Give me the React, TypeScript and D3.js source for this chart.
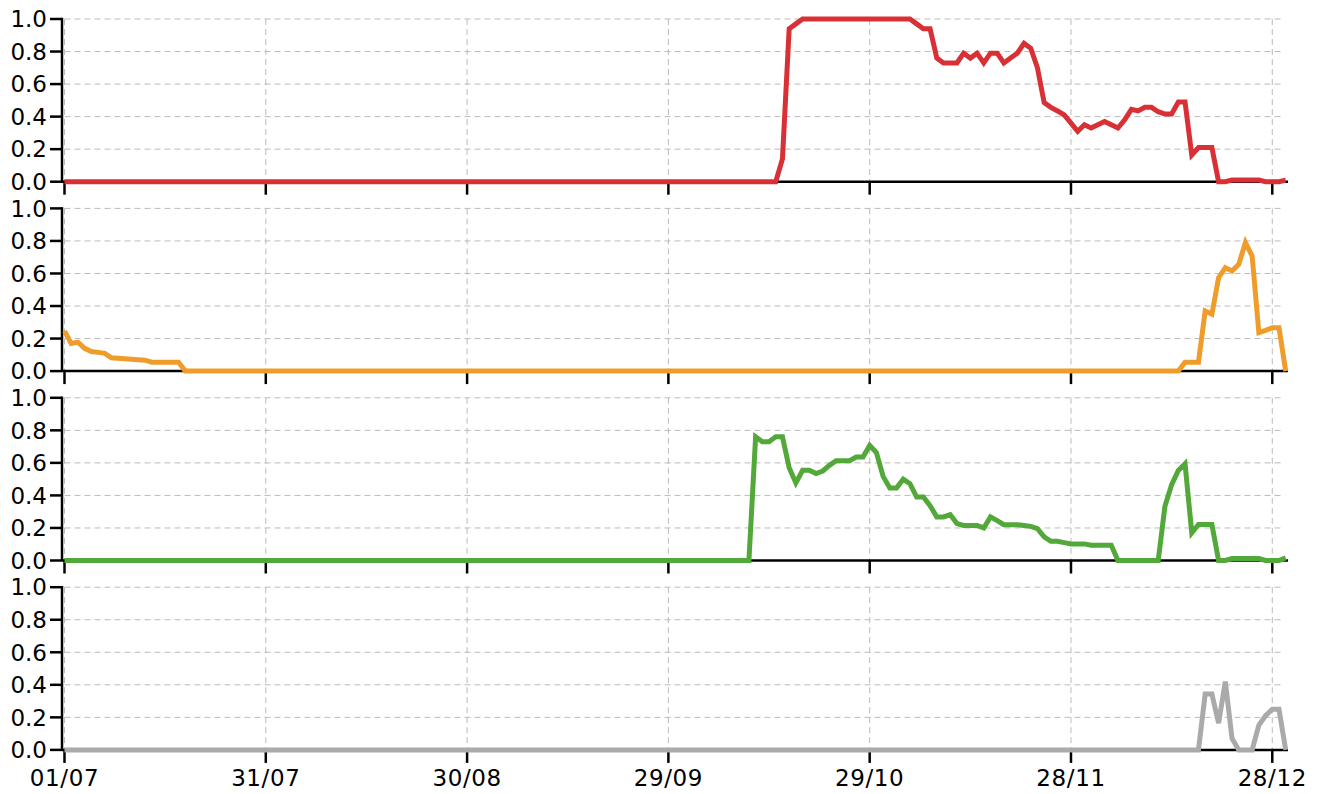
import React from "react";
import * as d3 from "d3";

const YEAR = 2021;
const startLabel = "01/07";
const endLabel = "30/12";
const xTickLabels = ["01/07", "31/07", "30/08", "29/09", "29/10", "28/11", "28/12"];
const yTicks = [0, 0.2, 0.4, 0.6, 0.8, 1.0];

// Day offsets from 01/07 and values
const redDays = [0, 106, 107, 108, 109, 110, 126, 127, 128, 129, 130, 131, 132, 133, 134, 135, 136, 137, 138, 139, 140, 141, 142, 143, 144, 145, 146, 147, 148, 149, 150, 151, 152, 153, 154, 155, 156, 157, 158, 159, 160, 161, 162, 163, 164, 165, 166, 167, 168, 169, 170, 171, 172, 173, 174, 178, 179, 181, 182];
const redValues = [0, 0, 0.14, 0.94, 0.97, 1, 1, 0.97, 0.94, 0.94, 0.76, 0.73, 0.73, 0.73, 0.79, 0.76, 0.79, 0.73, 0.79, 0.79, 0.73, 0.76, 0.79, 0.85, 0.82, 0.7, 0.486, 0.457, 0.435, 0.41, 0.36, 0.31, 0.35, 0.33, 0.35, 0.37, 0.35, 0.33, 0.38, 0.445, 0.435, 0.457, 0.457, 0.43, 0.416, 0.416, 0.49, 0.49, 0.164, 0.21, 0.21, 0.21, 0, 0, 0.01, 0.01, 0, 0, 0.01];

const orangeDays = [0, 1, 2, 3, 4, 5, 6, 7, 12, 13, 17, 18, 166, 167, 169, 170, 171, 172, 173, 174, 175, 176, 177, 178, 179, 180, 181, 182];
const orangeValues = [0.246, 0.17, 0.178, 0.14, 0.12, 0.115, 0.109, 0.082, 0.067, 0.055, 0.055, 0, 0, 0.055, 0.055, 0.37, 0.35, 0.574, 0.636, 0.615, 0.656, 0.79, 0.707, 0.236, 0.25, 0.267, 0.267, 0];

const greenDays = [0, 102, 103, 104, 105, 106, 107, 108, 109, 110, 111, 112, 113, 114, 115, 116, 117, 118, 119, 120, 121, 122, 123, 124, 125, 126, 127, 128, 129, 130, 131, 132, 133, 134, 135, 136, 137, 138, 139, 140, 141, 142, 143, 144, 145, 146, 147, 148, 149, 150, 151, 152, 153, 156, 157, 163, 164, 165, 166, 167, 168, 169, 171, 172, 173, 174, 178, 179, 181, 182];
const greenValues = [0, 0, 0.76, 0.73, 0.73, 0.76, 0.76, 0.57, 0.477, 0.554, 0.554, 0.534, 0.55, 0.585, 0.613, 0.613, 0.613, 0.636, 0.636, 0.707, 0.664, 0.517, 0.446, 0.446, 0.5, 0.472, 0.39, 0.39, 0.337, 0.268, 0.268, 0.282, 0.227, 0.215, 0.215, 0.215, 0.2, 0.268, 0.245, 0.22, 0.22, 0.22, 0.215, 0.21, 0.196, 0.145, 0.118, 0.118, 0.11, 0.102, 0.102, 0.102, 0.094, 0.094, 0, 0, 0.333, 0.466, 0.554, 0.595, 0.17, 0.221, 0.221, 0, 0, 0.012, 0.012, 0, 0, 0.016];

const greyDays = [0, 169, 170, 171, 172, 173, 174, 175, 177, 178, 179, 180, 181, 182];
const greyValues = [0, 0, 0.344, 0.344, 0.164, 0.42, 0.07, 0, 0, 0.153, 0.21, 0.25, 0.25, 0];

const seriesDays = [redDays, orangeDays, greenDays, greyDays];
const seriesValues = [redValues, orangeValues, greenValues, greyValues];
const seriesColors = ["#d93036", "#ef9c2a", "#52a838", "#aaaaaa"];

const parseDM = (s: string) => {
  const [d, m] = s.split("/").map(Number);
  return new Date(YEAR, m - 1, d);
};
const startDate = parseDM(startLabel);
const endDate = parseDM(endLabel);
const dayToDate = (n: number) => d3.timeDay.offset(startDate, n);

const W = 1322;
const H = 794;
const X0 = 64.5;
const X1 = 1285.7;
const AXIS_X = 62;
const AXIS_END = 1288;
const PANEL_TOP = 19;
const PANEL_STEP = 189.4;
const PANEL_H = 162.7;
const FONT = "'DejaVu Sans', Verdana, sans-serif";
const FS = 23;

export default function App() {
  const x = d3.scaleTime().domain([startDate, endDate]).range([X0, X1]);
  const tickDates = xTickLabels.map(parseDM);

  return (
    <svg
      width={W}
      height={H}
      style={{ position: "absolute", left: 0, top: 0, background: "#fff" }}
      fontFamily={FONT}
    >
      {seriesDays.map((days, i) => {
        const top = PANEL_TOP + i * PANEL_STEP;
        const y = d3.scaleLinear().domain([0, 1]).range([top + PANEL_H, top]);
        const pts = days.map((d, k) => [dayToDate(d), seriesValues[i][k]] as [Date, number]);
        const line = d3
          .line<[Date, number]>()
          .x((p) => x(p[0]))
          .y((p) => y(p[1]));
        const y0 = y(0);
        const isLast = i === seriesDays.length - 1;
        return (
          <g key={i}>
            {yTicks.map((t) => (
              <line
                key={"h" + t}
                x1={X0}
                x2={X1 - 2}
                y1={y(t)}
                y2={y(t)}
                stroke="#bbbbbb"
                strokeWidth={1}
                strokeDasharray="6,4"
              />
            ))}
            {tickDates.map((d, k) => (
              <line
                key={"v" + k}
                x1={x(d)}
                x2={x(d)}
                y1={y(1)}
                y2={y0}
                stroke="#bbbbbb"
                strokeWidth={1}
                strokeDasharray="6,4"
              />
            ))}
            <line x1={AXIS_X} x2={AXIS_END} y1={y0} y2={y0} stroke="#000" strokeWidth={2.5} />
            {tickDates.map((d, k) => (
              <line
                key={"xt" + k}
                x1={x(d)}
                x2={x(d)}
                y1={y0}
                y2={y0 + 13}
                stroke="#000"
                strokeWidth={2.5}
              />
            ))}
            {isLast &&
              tickDates.map((d, k) => (
                <text
                  key={"xl" + k}
                  x={x(d)}
                  y={y0 + 36.5}
                  textAnchor="middle"
                  fontSize={FS}
                  letterSpacing={0.6}
                  fill="#000"
                >
                  {xTickLabels[k]}
                </text>
              ))}
            <line x1={AXIS_X} x2={AXIS_X} y1={y(1) - 1.2} y2={y0} stroke="#000" strokeWidth={2.5} />
            {yTicks.map((t) => (
              <g key={"yt" + t}>
                <line x1={AXIS_X - 12} x2={AXIS_X} y1={y(t)} y2={y(t)} stroke="#000" strokeWidth={2.5} />
                <text
                  x={AXIS_X - 15}
                  y={y(t)}
                  dy="0.36em"
                  textAnchor="end"
                  fontSize={FS}
                  fill="#000"
                >
                  {d3.format(".1f")(t)}
                </text>
              </g>
            ))}
            <path
              d={line(pts) || ""}
              fill="none"
              stroke={seriesColors[i]}
              strokeWidth={5}
              strokeLinejoin="miter"
              strokeMiterlimit={4}
            />
          </g>
        );
      })}
    </svg>
  );
}
